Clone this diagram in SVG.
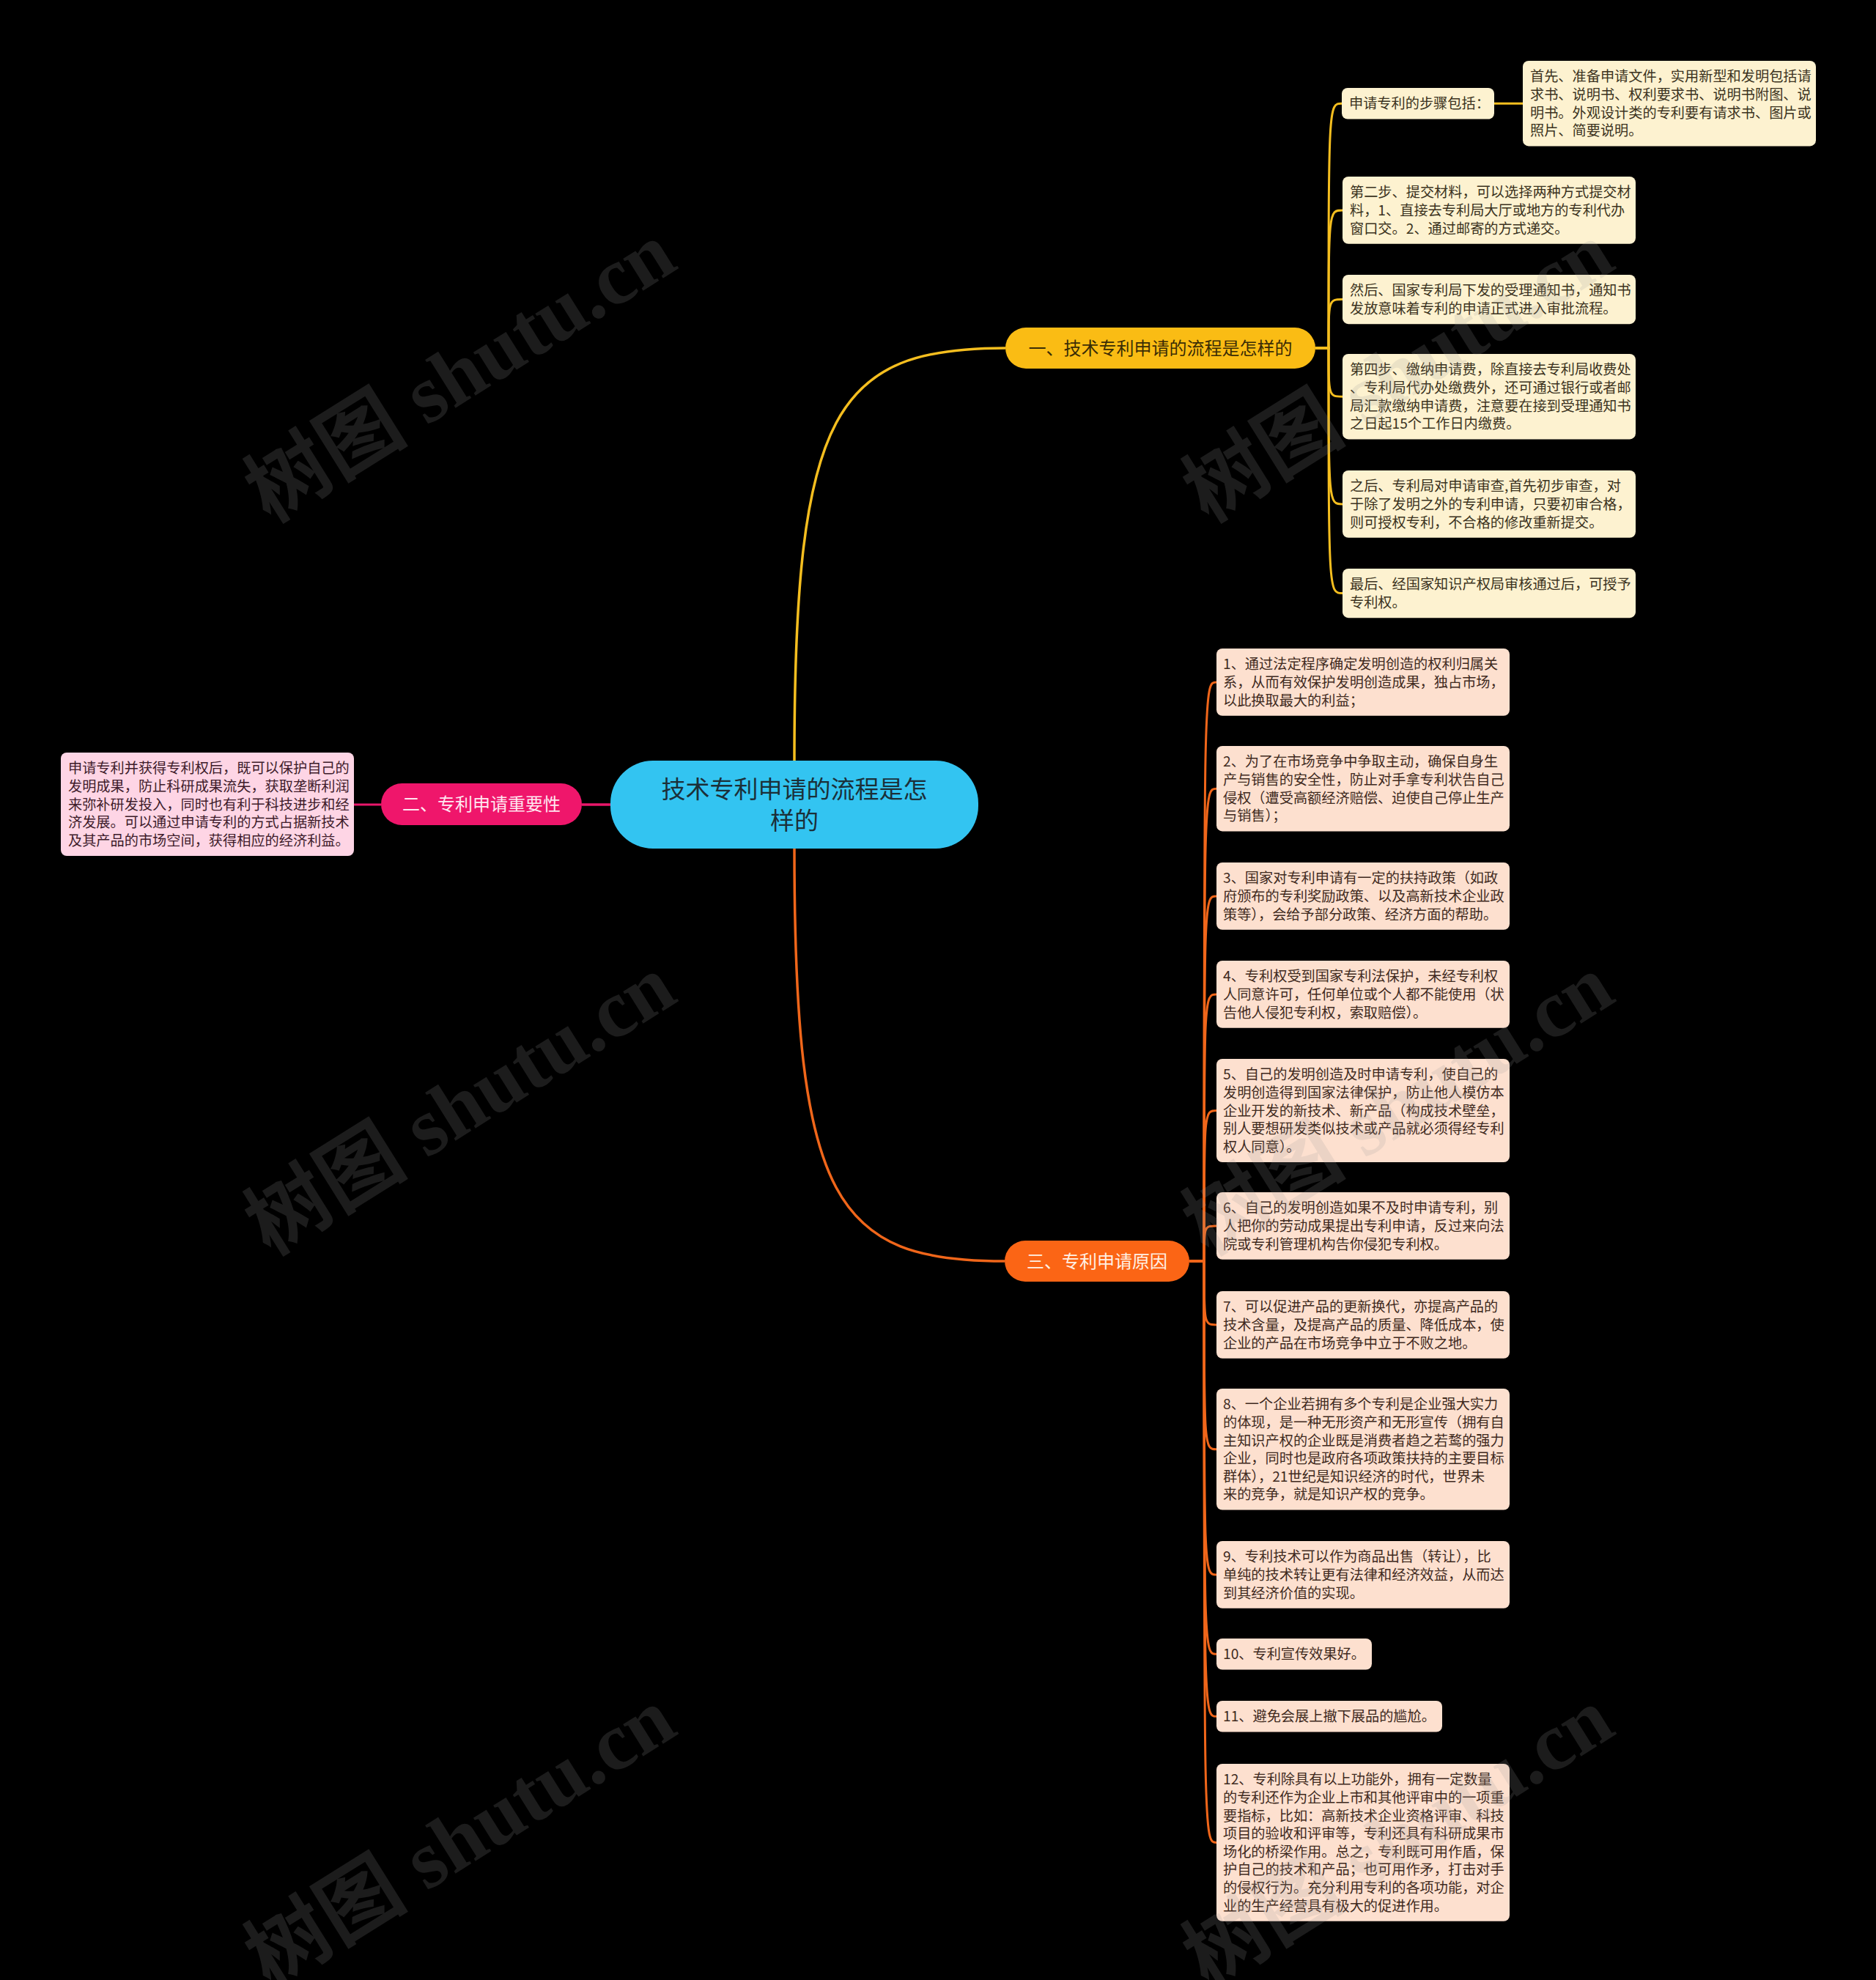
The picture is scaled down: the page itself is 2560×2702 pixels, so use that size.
<svg xmlns="http://www.w3.org/2000/svg" width="2560" height="2702" viewBox="0 0 2560 2702">
<style>
.t{font-family:"Noto Sans CJK SC","Noto Sans",sans-serif;font-size:19.2px}
.b1{fill:#FDF2D0}.t1{fill:#3b3220}
.b2{fill:#FED5E5}.t2{fill:#3d1b2a}
.b3{fill:#FDE0CF}.t3{fill:#3f2a1e}
.cy{fill:none;stroke:#F5BE1F;stroke-width:3}
.co{fill:none;stroke:#F0661A;stroke-width:3}
.cp{fill:none;stroke:#E8176A;stroke-width:3}
.wm{font-family:"Liberation Serif","Noto Sans CJK SC",serif;font-weight:bold;font-size:112px;fill:#9a9a9a;fill-opacity:0.18}
</style>
<rect x="0" y="0" width="2560" height="2702" fill="#000"/>
<g id="connectors">
<path class="cy" d="M1084 1038 C1084 560 1140 475 1372 475" style="stroke-width:3.5"/>
<path class="co" d="M1084 1158 C1084 1640 1140 1721 1371 1721" style="stroke-width:3.5"/>
<path class="cp" d="M833 1098 L794 1098" style="stroke-width:3.5"/>
<path class="cp" d="M520 1098 L482 1098"/>
<path class="cy" d="M1795 475 L1813 475 C1813 141.3 1813 141.3 1831 141.3"/>
<path class="cy" d="M2039 141.3 L2078 141.3"/>
<path class="cy" d="M1795 475 L1813 475 C1813 286.9 1813 286.9 1832 286.9"/>
<path class="cy" d="M1795 475 L1813 475 C1813 408.6 1813 408.6 1832 408.6"/>
<path class="cy" d="M1795 475 L1813 475 C1813 541.2 1813 541.2 1832 541.2"/>
<path class="cy" d="M1795 475 L1813 475 C1813 687.9 1813 687.9 1832 687.9"/>
<path class="cy" d="M1795 475 L1813 475 C1813 809.6 1813 809.6 1832 809.6"/>
<path class="co" d="M1623 1721 L1643 1721 C1643 930.9 1643 930.9 1660 930.9"/>
<path class="co" d="M1623 1721 L1643 1721 C1643 1076.2 1643 1076.2 1660 1076.2"/>
<path class="co" d="M1623 1721 L1643 1721 C1643 1222.9 1643 1222.9 1660 1222.9"/>
<path class="co" d="M1623 1721 L1643 1721 C1643 1356.9 1643 1356.9 1660 1356.9"/>
<path class="co" d="M1623 1721 L1643 1721 C1643 1515.5 1643 1515.5 1660 1515.5"/>
<path class="co" d="M1623 1721 L1643 1721 C1643 1672.9 1643 1672.9 1660 1672.9"/>
<path class="co" d="M1623 1721 L1643 1721 C1643 1807.9 1643 1807.9 1660 1807.9"/>
<path class="co" d="M1623 1721 L1643 1721 C1643 1977.8 1643 1977.8 1660 1977.8"/>
<path class="co" d="M1623 1721 L1643 1721 C1643 2148.9 1643 2148.9 1660 2148.9"/>
<path class="co" d="M1623 1721 L1643 1721 C1643 2257.3 1643 2257.3 1660 2257.3"/>
<path class="co" d="M1623 1721 L1643 1721 C1643 2342.3 1643 2342.3 1660 2342.3"/>
<path class="co" d="M1623 1721 L1643 1721 C1643 2514.4 1643 2514.4 1660 2514.4"/>
</g>
<g id="root">
<rect x="833" y="1038" width="502" height="120" rx="58" fill="#33C4F1"/>
<text font-family="Noto Sans CJK SC, sans-serif" font-size="33" fill="#1b2f38" text-anchor="middle"><tspan x="1084" y="1089">技术专利申请的流程是怎</tspan><tspan x="1084" y="1132">样的</tspan></text>
</g>
<g id="b1">
<rect x="1372" y="447" width="423" height="56" rx="28" fill="#FABC14"/>
<text x="1583.5" y="484" font-family="Noto Sans CJK SC, sans-serif" font-size="24" fill="#3a2c05" text-anchor="middle">一、技术专利申请的流程是怎样的</text>
</g>
<g id="b2">
<rect x="520" y="1069" width="274" height="57" rx="28.5" fill="#EF166B"/>
<text x="657" y="1106" font-family="Noto Sans CJK SC, sans-serif" font-size="24" fill="#FFE6F0" text-anchor="middle">二、专利申请重要性</text>
</g>
<g id="b3">
<rect x="1371" y="1693" width="252" height="56" rx="28" fill="#FB6515"/>
<text x="1497" y="1730" font-family="Noto Sans CJK SC, sans-serif" font-size="24" fill="#FFF0E4" text-anchor="middle">三、专利申请原因</text>
</g>
<g id="b1-steps">
<rect class="b1" x="1831" y="120" width="208" height="42.6" rx="8"/>
<text class="t t1" x="1841" y="148.3">申请专利的步骤包括：</text>
</g>
<g id="b1-first">
<rect class="b1" x="2078" y="83" width="400" height="116.4" rx="8"/>
<text class="t t1"><tspan x="2088" y="111.3">首先、准备申请文件，实用新型和发明包括请</tspan><tspan x="2088" y="135.9">求书、说明书、权利要求书、说明书附图、说</tspan><tspan x="2088" y="160.5">明书。外观设计类的专利要有请求书、图片或</tspan><tspan x="2088" y="185.1">照片、简要说明。</tspan></text>
</g>
<g id="b1-2">
<rect class="b1" x="1832" y="241" width="400" height="91.8" rx="8"/>
<text class="t t1"><tspan x="1842" y="269.3">第二步、提交材料，可以选择两种方式提交材</tspan><tspan x="1842" y="293.9">料，1、直接去专利局大厅或地方的专利代办</tspan><tspan x="1842" y="318.5">窗口交。2、通过邮寄的方式递交。</tspan></text>
</g>
<g id="b1-3">
<rect class="b1" x="1832" y="375" width="400" height="67.2" rx="8"/>
<text class="t t1"><tspan x="1842" y="403.3">然后、国家专利局下发的受理通知书，通知书</tspan><tspan x="1842" y="427.9">发放意味着专利的申请正式进入审批流程。</tspan></text>
</g>
<g id="b1-4">
<rect class="b1" x="1832" y="483" width="400" height="116.4" rx="8"/>
<text class="t t1"><tspan x="1842" y="511.3">第四步、缴纳申请费，除直接去专利局收费处</tspan><tspan x="1842" y="535.9">、专利局代办处缴费外，还可通过银行或者邮</tspan><tspan x="1842" y="560.5">局汇款缴纳申请费，注意要在接到受理通知书</tspan><tspan x="1842" y="585.1">之日起15个工作日内缴费。</tspan></text>
</g>
<g id="b1-5">
<rect class="b1" x="1832" y="642" width="400" height="91.8" rx="8"/>
<text class="t t1"><tspan x="1842" y="670.3">之后、专利局对申请审查,首先初步审查，对</tspan><tspan x="1842" y="694.9">于除了发明之外的专利申请，只要初审合格，</tspan><tspan x="1842" y="719.5">则可授权专利，不合格的修改重新提交。</tspan></text>
</g>
<g id="b1-6">
<rect class="b1" x="1832" y="776" width="400" height="67.2" rx="8"/>
<text class="t t1"><tspan x="1842" y="804.3">最后、经国家知识产权局审核通过后，可授予</tspan><tspan x="1842" y="828.9">专利权。</tspan></text>
</g>
<g id="b2-1">
<rect class="b2" x="83" y="1027" width="400" height="141" rx="8"/>
<text class="t t2"><tspan x="93" y="1055.3">申请专利并获得专利权后，既可以保护自己的</tspan><tspan x="93" y="1079.9">发明成果，防止科研成果流失，获取垄断利润</tspan><tspan x="93" y="1104.5">来弥补研发投入，同时也有利于科技进步和经</tspan><tspan x="93" y="1129.1">济发展。可以通过申请专利的方式占据新技术</tspan><tspan x="93" y="1153.7">及其产品的市场空间，获得相应的经济利益。</tspan></text>
</g>
<g id="b3-1">
<rect class="b3" x="1660" y="885" width="400" height="91.8" rx="8"/>
<text class="t t3"><tspan x="1669" y="913.3">1、通过法定程序确定发明创造的权利归属关</tspan><tspan x="1669" y="937.9">系，从而有效保护发明创造成果，独占市场，</tspan><tspan x="1669" y="962.5">以此换取最大的利益；</tspan></text>
</g>
<g id="b3-2">
<rect class="b3" x="1660" y="1018" width="400" height="116.4" rx="8"/>
<text class="t t3"><tspan x="1669" y="1046.3">2、为了在市场竞争中争取主动，确保自身生</tspan><tspan x="1669" y="1070.9">产与销售的安全性，防止对手拿专利状告自己</tspan><tspan x="1669" y="1095.5">侵权（遭受高额经济赔偿、迫使自己停止生产</tspan><tspan x="1669" y="1120.1">与销售）；</tspan></text>
</g>
<g id="b3-3">
<rect class="b3" x="1660" y="1177" width="400" height="91.8" rx="8"/>
<text class="t t3"><tspan x="1669" y="1205.3">3、国家对专利申请有一定的扶持政策（如政</tspan><tspan x="1669" y="1229.9">府颁布的专利奖励政策、以及高新技术企业政</tspan><tspan x="1669" y="1254.5">策等），会给予部分政策、经济方面的帮助。</tspan></text>
</g>
<g id="b3-4">
<rect class="b3" x="1660" y="1311" width="400" height="91.8" rx="8"/>
<text class="t t3"><tspan x="1669" y="1339.3">4、专利权受到国家专利法保护，未经专利权</tspan><tspan x="1669" y="1363.9">人同意许可，任何单位或个人都不能使用（状</tspan><tspan x="1669" y="1388.5">告他人侵犯专利权，索取赔偿）。</tspan></text>
</g>
<g id="b3-5">
<rect class="b3" x="1660" y="1445" width="400" height="141" rx="8"/>
<text class="t t3"><tspan x="1669" y="1473.3">5、自己的发明创造及时申请专利，使自己的</tspan><tspan x="1669" y="1497.9">发明创造得到国家法律保护，防止他人模仿本</tspan><tspan x="1669" y="1522.5">企业开发的新技术、新产品（构成技术壁垒，</tspan><tspan x="1669" y="1547.1">别人要想研发类似技术或产品就必须得经专利</tspan><tspan x="1669" y="1571.7">权人同意）。</tspan></text>
</g>
<g id="b3-6">
<rect class="b3" x="1660" y="1627" width="400" height="91.8" rx="8"/>
<text class="t t3"><tspan x="1669" y="1655.3">6、自己的发明创造如果不及时申请专利，别</tspan><tspan x="1669" y="1679.9">人把你的劳动成果提出专利申请，反过来向法</tspan><tspan x="1669" y="1704.5">院或专利管理机构告你侵犯专利权。</tspan></text>
</g>
<g id="b3-7">
<rect class="b3" x="1660" y="1762" width="400" height="91.8" rx="8"/>
<text class="t t3"><tspan x="1669" y="1790.3">7、可以促进产品的更新换代，亦提高产品的</tspan><tspan x="1669" y="1814.9">技术含量，及提高产品的质量、降低成本，使</tspan><tspan x="1669" y="1839.5">企业的产品在市场竞争中立于不败之地。</tspan></text>
</g>
<g id="b3-8">
<rect class="b3" x="1660" y="1895" width="400" height="165.6" rx="8"/>
<text class="t t3"><tspan x="1669" y="1923.3">8、一个企业若拥有多个专利是企业强大实力</tspan><tspan x="1669" y="1947.9">的体现，是一种无形资产和无形宣传（拥有自</tspan><tspan x="1669" y="1972.5">主知识产权的企业既是消费者趋之若鹜的强力</tspan><tspan x="1669" y="1997.1">企业，同时也是政府各项政策扶持的主要目标</tspan><tspan x="1669" y="2021.7">群体），21世纪是知识经济的时代，世界未</tspan><tspan x="1669" y="2046.3">来的竞争，就是知识产权的竞争。</tspan></text>
</g>
<g id="b3-9">
<rect class="b3" x="1660" y="2103" width="400" height="91.8" rx="8"/>
<text class="t t3"><tspan x="1669" y="2131.3">9、专利技术可以作为商品出售（转让），比</tspan><tspan x="1669" y="2155.9">单纯的技术转让更有法律和经济效益，从而达</tspan><tspan x="1669" y="2180.5">到其经济价值的实现。</tspan></text>
</g>
<g id="b3-10">
<rect class="b3" x="1660" y="2236" width="212" height="42.6" rx="8"/>
<text class="t t3" x="1669" y="2264.3">10、专利宣传效果好。</text>
</g>
<g id="b3-11">
<rect class="b3" x="1660" y="2321" width="308" height="42.6" rx="8"/>
<text class="t t3" x="1669" y="2349.3">11、避免会展上撤下展品的尴尬。</text>
</g>
<g id="b3-12">
<rect class="b3" x="1660" y="2407" width="400" height="214.8" rx="8"/>
<text class="t t3"><tspan x="1669" y="2435.3">12、专利除具有以上功能外，拥有一定数量</tspan><tspan x="1669" y="2459.9">的专利还作为企业上市和其他评审中的一项重</tspan><tspan x="1669" y="2484.5">要指标，比如：高新技术企业资格评审、科技</tspan><tspan x="1669" y="2509.1">项目的验收和评审等，专利还具有科研成果市</tspan><tspan x="1669" y="2533.7">场化的桥梁作用。总之，专利既可用作盾，保</tspan><tspan x="1669" y="2558.3">护自己的技术和产品；也可用作矛，打击对手</tspan><tspan x="1669" y="2582.9">的侵权行为。充分利用专利的各项功能，对企</tspan><tspan x="1669" y="2607.5">业的生产经营具有极大的促进作用。</tspan></text>
</g>
<g id="watermark">
<text class="wm" text-anchor="middle" transform="translate(648 540) rotate(-32)">树图 shutu.cn</text>
<text class="wm" text-anchor="middle" transform="translate(1928 540) rotate(-32)">树图 shutu.cn</text>
<text class="wm" text-anchor="middle" transform="translate(648 1540) rotate(-32)">树图 shutu.cn</text>
<text class="wm" text-anchor="middle" transform="translate(1928 1540) rotate(-32)">树图 shutu.cn</text>
<text class="wm" text-anchor="middle" transform="translate(648 2540) rotate(-32)">树图 shutu.cn</text>
<text class="wm" text-anchor="middle" transform="translate(1928 2540) rotate(-32)">树图 shutu.cn</text>
</g>
</svg>
